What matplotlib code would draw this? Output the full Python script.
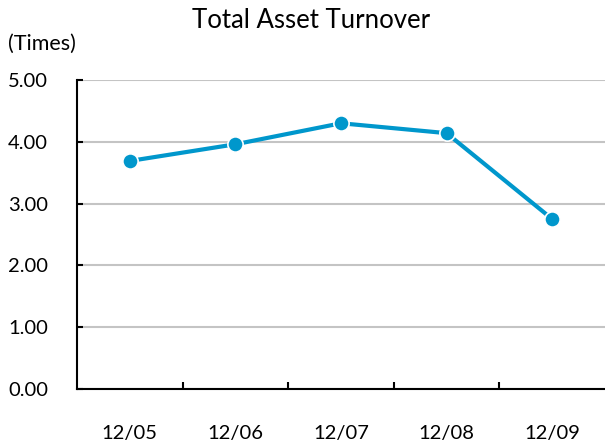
import matplotlib
matplotlib.use("Agg")
import matplotlib.pyplot as plt
from matplotlib.ticker import FixedLocator

categories = ["12/05", "12/06", "12/07", "12/08", "12/09"]
values = [3.69, 3.96, 4.30, 4.14, 2.75]
y_ticks = [0, 1, 2, 3, 4, 5]

plt.rcParams['font.family'] = ['Lato', 'DejaVu Sans']

W, H = 605, 442
fig = plt.figure(figsize=(W/100, H/100), dpi=100)
ax = fig.add_axes([77/W, 1-389/H, (605-77)/W, (389-80)/H])

x = list(range(len(categories)))
ax.plot(x, values, color="#0097cc", lw=3, marker="o", ms=11,
        mfc="#0097cc", mec="white", mew=1.2, zorder=3, clip_on=False)

ax.set_xlim(-0.5, len(categories)-0.5)
ax.set_ylim(0, 5)
ax.set_yticks(y_ticks)
ax.set_yticklabels([f"{v:.2f}" for v in y_ticks])
ax.set_xticks(x)
ax.set_xticklabels(categories)
ax.xaxis.set_minor_locator(FixedLocator([i+0.5 for i in x[:-1]]))

ax.grid(axis="y", color="#c4c4c4", lw=1.5, zorder=0)
ax.set_axisbelow(True)
for s in ["top", "right"]:
    ax.spines[s].set_visible(False)
for s in ["left", "bottom"]:
    ax.spines[s].set_linewidth(1.5)
    ax.spines[s].set_color("black")

ax.tick_params(axis="x", which="major", length=0, pad=26, labelsize=14.5)
ax.tick_params(axis="x", which="minor", direction="in", length=5, width=1.5)
ax.tick_params(axis="y", direction="in", length=4, width=1.5, labelsize=14.5, pad=0)
for lbl in ax.get_yticklabels():
    lbl.set_horizontalalignment("left")
    lbl.set_x(-69/528)

fig.text(311/W, 1-20/H, "Total Asset Turnover", ha="center", va="center", fontsize=18.5)
fig.text(8/W, 1-44/H, "(Times)", ha="left", va="center", fontsize=15.5)

fig.savefig("out.png", dpi=100)
